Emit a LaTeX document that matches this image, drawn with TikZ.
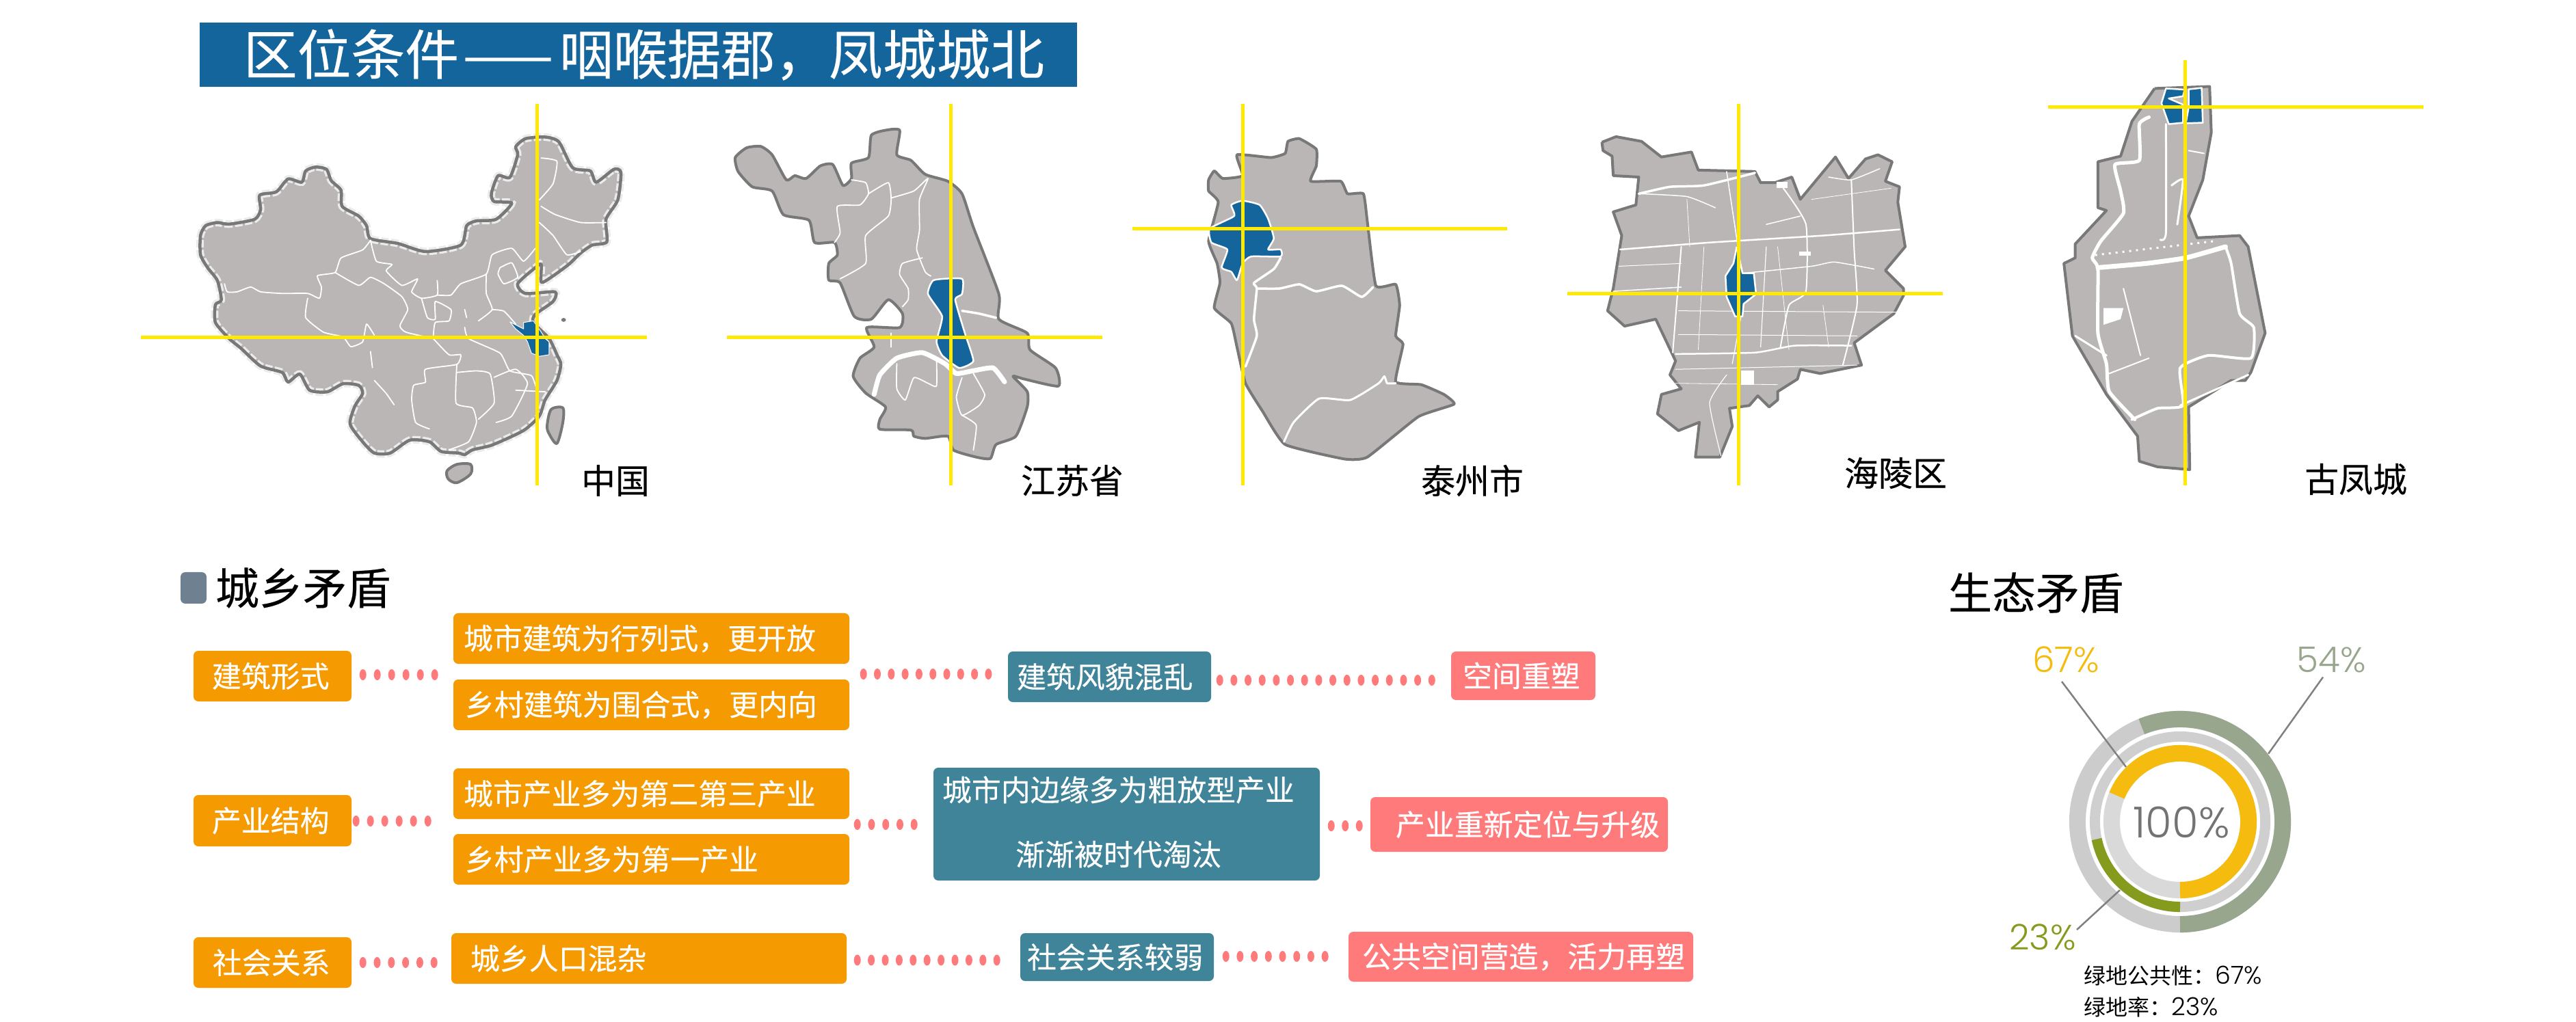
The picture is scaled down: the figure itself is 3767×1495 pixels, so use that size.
\documentclass[tikz,border=0pt]{standalone}
\usepackage{fontspec}
\usepackage{array}
\setmainfont{Noto Sans CJK SC}
\newfontfamily\numfont{Poppins Light}
\newfontfamily\heavyfont[FakeBold=0.3]{Noto Sans CJK SC}
\usetikzlibrary{decorations.markings,calc}
\newdimen\pxu \pxu=0.01cm
\definecolor{mapblue}{HTML}{15659D}
\definecolor{mapgrey}{HTML}{B9B6B5}
\definecolor{mapedge}{HTML}{787878}
\definecolor{crossy}{HTML}{FFE900}
\definecolor{boxor}{HTML}{F59A00}
\definecolor{boxte}{HTML}{40849A}
\definecolor{boxpk}{HTML}{FF7B7B}
\definecolor{marksq}{HTML}{6F8090}
\definecolor{ringa}{HTML}{98A68E}
\definecolor{ringb}{HTML}{849B1D}
\definecolor{ringc}{HTML}{F5BC0F}
\tikzset{
  zoomA/.style={shift={(1.8cm,0cm)},x=0.00574cm,y=-0.00472cm},
  zoomB/.style={shift={(10cm,-1cm)},x=0.00829cm,y=-0.00408cm},
  zoomC/.style={shift={(22.5cm,-1cm)},x=0.00829cm,y=-0.00408cm},
  landfill/.style={fill=mapgrey,postaction={draw=mapedge,line width=4\pxu,line join=round}},
  landspeck/.style={fill=mapgrey,postaction={draw=black!8,densely dotted,line width=11\pxu},postaction={draw=mapedge,line width=4.5\pxu,line join=round}},
  blueshape/.style={fill=mapblue,draw=white,line width=2.5\pxu,line join=round},
  whiteline/.style={draw=white,line width=1.8\pxu,line join=round,line cap=round},
  crossline/.style={draw=crossy,line width=5\pxu},
  boxbase/.style={rounded corners=7\pxu,inner sep=0pt,text=white,font=\heavyfont\fontsize{12.2}{14}\selectfont},
  maplabel/.style={font=\heavyfont\fontsize{14.2}{16}\selectfont,text=black,inner sep=0pt},
  headlabel/.style={font=\heavyfont\fontsize{18.2}{20}\selectfont,text=black,inner sep=0pt},
  pctlabel/.style={font=\numfont\fontsize{14.7}{16}\selectfont,inner sep=0pt},
  leader/.style={draw=gray,line width=2.5\pxu},
  dotrow/.style={decorate,decoration={markings,mark=between positions 0 and 1 step #1\pxu with {\fill[boxpk] (0,0) ellipse [x radius=0.05cm,y radius=0.08cm];}}},
}
% name, x1, y1, x2, y2, colour, left pad, text
\newcommand\boxnode[8]{\node[boxbase,fill=#6,minimum width={(#4-#2)*\pxu},minimum height={(#5-#3)*\pxu}] (#1) at ({(#2+#4)/2},{(#3+#5)/2}) {\makebox[\dimexpr #4\pxu-#2\pxu\relax][l]{\hspace*{#7\pxu}#8}};}
\newcommand\wl[2][]{\draw[whiteline,#1] plot[smooth,tension=.3] coordinates {#2};}
\begin{document}
\begin{tikzpicture}[x=0.01cm,y=-0.01cm]
\useasboundingbox (0,0) rectangle (3767,1495);

% title
\node[fill=mapblue,minimum width=1283\pxu,minimum height=94\pxu,inner sep=0pt,text=white,font=\heavyfont\fontsize{22.4}{24}\selectfont] (title) at (933.5,80) {\makebox[1283\pxu][l]{\hspace*{64\pxu}区位条件\hspace*{6\pxu}——\hspace*{9\pxu}咽喉据郡，凤城城北}};

% ---------- China ----------
\begin{scope}[zoomA]
\path[landspeck] plot[smooth cycle,tension=.4] coordinates {(197,730)(210,700)(240,690)(270,695)(335,680)(350,650)(348,605)(390,595)(420,555)(455,565)(465,530)(490,518)(518,525)(530,560)(555,590)(558,640)(600,670)(620,700)(630,740)(700,755)(770,780)(860,760)(875,700)(900,685)(950,680)(990,630)(945,625)(938,600)(955,545)(985,550)(1005,480)(1000,455)(1025,430)(1075,425)(1110,440)(1145,520)(1190,530)(1205,565)(1250,525)(1268,535)(1260,620)(1230,680)(1232,750)(1195,760)(1165,785)(1135,820)(1090,860)(1065,875)(1065,820)(1050,830)(1005,880)(1025,910)(1100,905)(1095,935)(1050,975)(1045,1000)(1085,1050)(1105,1100)(1115,1130)(1105,1180)(1075,1240)(1060,1290)(1020,1335)(940,1380)(890,1395)(870,1410)(855,1405)(810,1400)(780,1370)(730,1365)(680,1405)(640,1405)(610,1370)(578,1315)(590,1260)(610,1220)(600,1195)(560,1190)(520,1215)(475,1210)(450,1160)(420,1185)(405,1155)(350,1135)(300,1080)(270,1050)(235,1000)(235,945)(250,930)(240,870)(215,830)(197,790)};
\path[landfill] plot[smooth cycle,tension=.5] coordinates {(825,1460)(850,1440)(885,1440)(885,1470)(850,1497)(828,1485)};
\path[landfill] plot[smooth cycle,tension=.5] coordinates {(1090,1270)(1120,1265)(1120,1310)(1105,1375)(1085,1345)(1080,1320)};
\fill[mapedge] (1122,992) ellipse (6 and 6);
\wl{(630,745)(610,775)(555,800)(540,845)(495,855)(505,890)(500,925)(470,910)(405,910)(350,905)(325,890)(290,905)(265,905)(258,880)}
\wl{(540,845)(600,885)(630,860)(665,880)(710,920)(725,960)(705,1010)(720,1030)(790,1050)}
\wl{(630,745)(645,810)(685,820)(670,840)(710,885)(750,865)(735,905)(760,925)(800,915)(800,870)}
\wl{(470,925)(465,985)(510,1030)(560,1045)(580,1075)(610,1060)(620,1005)(640,1040)}
\wl{(760,925)(775,985)(795,990)(795,935)(835,960)(830,995)(795,1000)(790,1045)}
\wl{(800,915)(835,915)(860,880)(925,850)(940,790)(990,770)(1020,810)(1050,770)}
\wl{(925,850)(925,910)(940,960)(905,995)}
\wl{(940,960)(970,965)(1000,1005)}
\wl{(960,830)(990,815)(1005,860)(970,880)(955,850)(960,830)}
\wl{(1060,620)(1095,570)(1105,500)(1065,490)}
\wl{(1065,640)(1100,665)(1165,690)(1230,690)}
\wl{(1060,690)(1095,730)(1130,790)(1165,780)}
\wl{(870,1015)(880,1050)(960,1095)(985,1150)(1040,1165)(1055,1215)}
\wl{(790,1050)(830,1100)(860,1100)(850,1130)(770,1145)(770,1185)(740,1195)(735,1240)(745,1310)(780,1330)}
\wl{(850,1130)(848,1250)(890,1265)(900,1310)(880,1370)(830,1395)}
\wl{(850,1155)(900,1150)(935,1160)(945,1250)(905,1300)}
\wl{(945,1170)(1000,1145)(1030,1190)(990,1290)(950,1310)}
\wl{(1000,1210)(1075,1215)}
\wl{(630,1090)(635,1140)}
\wl{(640,1180)(670,1220)(690,1255)}
\wl{(870,960)(875,985)}
\path[blueshape,line width=1\pxu] plot coordinates {(985,998)(1020,1020)(1020,1000)(1045,995)(1065,1030)(1075,1050)(1085,1060)(1085,1100)(1060,1105)(1040,1095)(1030,1060)(1020,1040)(1000,1020)(985,998)};
\end{scope}

% ---------- Jiangsu and Taizhou ----------
\begin{scope}[zoomB]
\path[landfill] plot[smooth cycle,tension=.35] coordinates {(90,320)(110,285)(135,280)(155,310)(180,400)(195,385)(215,395)(240,350)(262,345)(280,420)(295,395)(295,340)(325,320)(330,240)(355,222)(380,222)(375,310)(400,330)(425,380)(465,405)(490,450)(510,570)(555,810)(555,900)(605,950)(610,1010)(655,1075)(660,1140)(600,1115)(580,1105)(605,1160)(605,1215)(585,1320)(550,1350)(540,1400)(515,1395)(475,1370)(465,1320)(425,1328)(405,1320)(400,1298)(345,1295)(345,1260)(355,1215)(320,1165)(298,1105)(310,1040)(335,1000)(322,930)(380,930)(385,880)(360,830)(330,900)(300,890)(275,770)(255,760)(255,700)(270,670)(265,625)(230,625)(220,545)(175,525)(155,440)(120,425)(95,370)};
\wl[line width=7\pxu]{(335,1170)(345,1100)(375,1040)(420,1020)(460,1060)(480,1095)(510,1085)(545,1075)(565,1125)}
\wl{(295,400)(320,410)(325,450)(310,490)(270,495)(275,590)(265,625)}
\wl{(325,450)(360,410)(365,470)(360,530)(320,600)(320,700)(275,755)}
\wl{(365,465)(405,440)(430,395)(415,470)(415,580)(410,650)(425,730)(435,745)}
\wl{(420,680)(385,700)(380,740)(395,790)(395,830)(385,855)}
\wl[line width=3.5\pxu]{(490,870)(520,880)(550,895)}
\wl{(375,1060)(375,1150)(390,1190)(405,1110)(430,1130)(445,1140)(445,1040)}
\wl{(510,1095)(530,1170)(520,1210)(490,1245)(480,1180)(490,1110)}
\wl{(490,1245)(515,1280)(510,1370)}
\wl{(365,950)(365,1000)}
\path[blueshape] plot[smooth cycle,tension=.3] coordinates {(440,760)(490,755)(490,810)(478,830)(495,950)(510,1050)(485,1075)(455,1030)(445,980)(455,890)(430,810)};
% Taizhou
\path[landfill] plot[smooth cycle,tension=.25] coordinates {(925,400)(935,368)(950,395)(985,385)(975,310)(1035,320)(1060,305)(1065,262)(1085,252)(1115,290)(1115,350)(1105,405)(1158,405)(1170,450)(1198,450)(1205,550)(1220,780)(1255,775)(1262,850)(1255,960)(1268,990)(1255,1125)(1300,1135)(1340,1170)(1358,1205)(1295,1250)(1205,1395)(1165,1402)(1060,1350)(1020,1230)(990,1130)(975,1000)(965,915)(935,860)(945,770)(940,700)(925,620)(942,480)(925,440)};
\wl[line width=3.5\pxu]{(1052,680)(1040,720)(1005,770)(1010,790)(1005,900)(1010,960)(990,1070)}
\wl[line width=3.5\pxu]{(1010,790)(1050,790)(1085,775)(1115,800)(1160,780)(1195,820)(1215,785)}
\wl[line width=3\pxu]{(1058,1340)(1075,1270)(1120,1185)(1175,1190)(1225,1130)(1235,1105)(1240,1130)(1255,1130)}
\path[blueshape] plot[smooth cycle,tension=.3] coordinates {(965,490)(985,475)(1015,490)(1030,540)(1040,610)(1030,650)(1052,650)(1052,675)(1000,675)(985,700)(975,760)(965,730)(948,715)(958,650)(930,625)(927,575)(970,530)};
\end{scope}

% ---------- Hailing and Gufeng ----------
\begin{scope}[zoomC]
\path[landfill] plot coordinates {(110,265)(135,245)(180,262)(215,318)(268,300)(280,365)(380,370)(390,410)(415,410)(445,390)(460,470)(522,318)(545,395)(575,325)(597,310)(622,335)(610,405)(635,425)(632,480)(645,640)(610,725)(642,790)(642,815)(625,880)(555,985)(568,1065)(495,1095)(460,1080)(455,1115)(420,1160)(420,1190)(405,1215)(385,1175)(370,1210)(335,1220)(340,1285)(318,1395)(275,1395)(282,1270)(245,1300)(208,1240)(215,1170)(250,1150)(230,1100)(240,1050)(205,900)(150,925)(120,870)(130,790)(145,600)(130,515)(170,490)(175,390)(130,385)(128,315)(112,295)(110,265)};
\wl[line width=3.5\pxu]{(175,450)(230,425)(290,420)(380,375)}
\wl[line width=2.5\pxu]{(142,650)(300,625)(500,600)(635,578)}
\wl[line width=1.5\pxu]{(330,370)(350,640)}
\wl[line width=2\pxu]{(430,430)(470,560)(470,800)(440,850)(425,1000)}
\wl[line width=2\pxu]{(550,400)(555,650)(560,850)(535,1065)}
\wl[line width=2\pxu]{(250,640)(235,1020)}
\wl[line width=2.5\pxu]{(240,1025)(380,1020)(450,995)(550,995)}
\wl[line width=1.5\pxu]{(360,735)(480,710)(520,695)(590,720)}
\wl[line width=1.5\pxu]{(130,800)(250,785)}
\wl[line width=1\pxu]{(245,870)(630,875)}
\wl[line width=1\pxu]{(240,1080)(560,1065)}
\wl[line width=1.5\pxu]{(180,450)(260,460)(310,500)}
\wl[line width=1.5\pxu]{(400,560)(460,530)}
\wl[line width=1.2\pxu]{(330,1100)(300,1200)(320,1390)}
\wl[line width=1.5\pxu]{(510,390)(550,400)(600,360)}
\wl[line width=1\pxu]{(140,710)(250,700)}
\wl[line width=1\pxu]{(245,955)(560,960)}
\wl[line width=1.2\pxu]{(360,840)(340,1060)}
\wl[line width=1.2\pxu]{(400,640)(390,1000)}
\wl[line width=.8\pxu]{(260,470)(265,640)}
\wl[line width=.8\pxu]{(290,640)(280,1010)}
\wl[line width=.8\pxu]{(420,640)(440,1010)}
\wl[line width=.8\pxu]{(500,850)(510,1000)}
\wl[line width=.8\pxu]{(480,470)(620,430)}
\wl[line width=.8\pxu]{(240,1130)(420,1135)}
\fill[white] (355,1085) rectangle (378,1135);
\fill[white] (418,408) rectangle (438,428);
\fill[white] (458,657) rectangle (478,673);
\path[blueshape] plot coordinates {(348,640)(358,735)(378,735)(382,810)(360,845)(358,890)(345,890)(330,820)(328,745)(342,700)(348,640)};
% Gufeng
\path[landfill] plot coordinates {(1085,72)(1182,65)(1185,230)(1170,400)(1145,530)(1160,608)(1235,600)(1250,640)(1280,950)(1255,1090)(1245,1120)(1220,1120)(1145,1215)(1147,1440)(1090,1430)(1058,1410)(1055,1320)(1000,1170)(940,960)(925,700)(945,680)(945,630)(1000,510)(985,500)(985,335)(1025,315)(1045,190)(1085,72)};
\wl[line width=5\pxu]{(1075,175)(1058,200)(1058,330)(1015,345)(1025,440)(1030,520)(990,620)(975,680)(985,720)(985,950)(1000,1060)(1005,1160)(1050,1260)}
\wl[line width=7\pxu]{(985,715)(1070,700)(1140,680)(1210,640)}
\wl[line width=4\pxu]{(1210,640)(1220,700)(1235,880)(1260,930)(1255,1040)(1180,1030)(1130,1075)(1135,1210)(1090,1220)(1045,1260)}
\wl[line width=3\pxu]{(1130,1210)(1250,1100)}
\wl[line width=3\pxu]{(1105,200)(1105,590)(1095,615)}
\wl[line width=3\pxu]{(1115,420)(1135,400)(1125,560)}
\wl[line width=2\pxu]{(1030,790)(1060,1030)}
\wl[line width=2\pxu]{(1005,1095)(1075,1040)}
\wl[line width=3\pxu]{(945,960)(1000,1030)}
\wl[line width=2\pxu]{(1145,295)(1172,305)}
\draw[draw=white,line width=3\pxu,dotted] (980,670) -- (1190,620);
\fill[white] (995,860) -- (1030,860) -- (1025,900) -- (995,920) -- cycle;
\path[blueshape] (1105,72) -- (1138,76) -- (1135,100) -- (1110,108) -- (1135,130) -- (1135,195) -- (1110,200) -- (1097,125) -- cycle;
\path[blueshape] (1145,75) -- (1168,70) -- (1170,195) -- (1140,197) -- (1145,140) -- cycle;
\end{scope}

% crosshairs
\coordinate (ca1) at (785.6,152); \coordinate (ca2) at (785.6,710);
\coordinate (ca3) at (206,494); \coordinate (ca4) at (946,494);
\coordinate (cb1) at (1390,152); \coordinate (cb2) at (1390,710);
\coordinate (cb3) at (1063,494); \coordinate (cb4) at (1612,494);
\coordinate (cc1) at (1817,152); \coordinate (cc2) at (1817,710);
\coordinate (cc3) at (1656,335); \coordinate (cc4) at (2204,335);
\coordinate (cd1) at (2542,152); \coordinate (cd2) at (2542,710);
\coordinate (cd3) at (2292,430); \coordinate (cd4) at (2841,430);
\coordinate (ce1) at (3195,88); \coordinate (ce2) at (3195,710);
\coordinate (ce3) at (2995,157); \coordinate (ce4) at (3544,157);
\foreach \k in {a,b,c,d,e} {
  \draw[crossline] (c\k1) -- (c\k2);
  \draw[crossline] (c\k3) -- (c\k4);
}

% map labels
\node[maplabel] (lchina) at (900,703) {中国};
\node[maplabel] (ljs) at (1568,703) {江苏省};
\node[maplabel] (ltz) at (2153,703) {泰州市};
\node[maplabel] (lhl) at (2772,692) {海陵区};
\node[maplabel] (lgf) at (3445,701) {古凤城};

% section heads
\node[fill=marksq,rounded corners=7\pxu,minimum width=38\pxu,minimum height=46\pxu,inner sep=0pt] (sq) at (283,860) {};
\node[headlabel] (hcx) at (443,860) {城乡矛盾};
\node[headlabel] (hst) at (2977,867) {生态矛盾};

% boxes
\boxnode{a1}{283}{952}{514}{1026}{boxor}{27}{建筑形式}
\boxnode{c1}{663}{897}{1242}{971}{boxor}{15}{\raisebox{-4\pxu}{城市建筑为行列式，更开放}}
\boxnode{c2}{663}{994}{1242}{1068}{boxor}{17}{乡村建筑为围合式，更内向}
\boxnode{d1}{1474}{953}{1771}{1027}{boxte}{13}{\raisebox{2\pxu}{建筑风貌混乱}}
\boxnode{e1}{2122}{953}{2333}{1024}{boxpk}{17}{空间重塑}
\boxnode{a2}{283}{1163}{514}{1238}{boxor}{27}{产业结构}
\boxnode{c4}{663}{1124}{1242}{1198}{boxor}{15}{城市产业多为第二第三产业}
\boxnode{c5}{663}{1220}{1242}{1294}{boxor}{17}{乡村产业多为第一产业}
\boxnode{d2}{1365}{1123}{1930}{1288}{boxte}{13}{\fontsize{12.2}{26.8}\selectfont\raisebox{-5\pxu}[0pt][0pt]{\begin{tabular}{@{}c@{}}城市内边缘多为粗放型产业\\渐渐被时代淘汰\end{tabular}}}
\boxnode{e2}{2004}{1166}{2439}{1246}{boxpk}{37}{产业重新定位与升级}
\boxnode{a3}{283}{1371}{514}{1445}{boxor}{28}{社会关系}
\boxnode{c3}{660}{1365}{1238}{1439}{boxor}{28}{城乡人口混杂}
\boxnode{d3}{1492}{1365}{1775}{1435}{boxte}{10}{社会关系较弱}
\boxnode{e3}{1972}{1363}{2476}{1436}{boxpk}{20}{公共空间营造，活力再塑}

\coordinate (m1l) at ($(c1.west)!.5!(c2.west)$);
\coordinate (m1r) at ($(c1.east)!.5!(c2.east)$);
\coordinate (m2l) at ($(c4.west)!.5!(c5.west)$);
\coordinate (m2r) at ($(c4.east)!.5!(c5.east)$);

% dotted connectors
\path[dotrow=21] ([shift={(16,-2)}]a1.east) -- ([shift={(-26,4.5)}]m1l);
\path[dotrow=20.3] ([shift={(20,3.5)}]m1r) -- ([shift={(-27,-4)}]d1.west);
\path[dotrow=20.67] ([shift={(12,5)}]d1.east) -- ([shift={(-27,6.5)}]e1.west);
\path[dotrow=21] ([shift={(6,.5)}]a2.east) -- ([shift={(-36,-8)}]m2l);
\path[dotrow=20.75] ([shift={(11,-3)}]m2r) -- ([shift={(-27,.5)}]d2.west);
\path[dotrow=20.5] ([shift={(16,2.5)}]d2.east) -- ([shift={(-15,2)}]e2.west);
\path[dotrow=20.8] ([shift={(16,0)}]a3.east) -- ([shift={(-24,6)}]c3.west);
\path[dotrow=20.4] ([shift={(15,2.5)}]c3.east) -- ([shift={(-33,4.5)}]d3.west);
\path[dotrow=20.7] ([shift={(17,-1)}]d3.east) -- ([shift={(-33,-.5)}]e3.west);

% donut
\begin{scope}[shift={(3188,1202)},x=1cm,y=1cm]
\draw[line width=0.24cm,draw=black!20] (0,0) circle (1.5);
\draw[line width=0.24cm,draw=ringa] (-90:1.5) arc[start angle=-90,end angle=112,radius=1.5];
\draw[line width=0.15cm,draw=black!19] (0,0) circle (1.245);
\draw[line width=0.15cm,draw=ringb] (270:1.245) arc[start angle=270,end angle=191.8,radius=1.245];
\draw[line width=0.24cm,draw=black!15] (0,0) circle (1.0);
\draw[line width=0.24cm,draw=ringc] (-90:1.0) arc[start angle=-90,end angle=157.5,radius=1.0];
\coordinate (p67) at (-0.79,0.80);
\coordinate (p54) at (1.29,0.994);
\coordinate (p23) at (-0.88,-1.00);
\end{scope}
\node[pctlabel,text=black!55,font=\numfont\fontsize{17.8}{20}\selectfont] (l100) at (3190,1203) {100\%};
\node[pctlabel,text=ringc] (l67) at (3021,965) {67\%};
\node[pctlabel,text=ringa] (l54) at (3409,965) {54\%};
\node[pctlabel,text=ringb] (l23) at (2987,1371) {23\%};
\draw[leader] ([shift={(-6,32)}]l67.center) -- (p67);
\draw[leader] ([shift={(-12,25.5)}]l54.center) -- (p54);
\draw[leader] ([shift={(50,-11)}]l23.center) -- (p23);

% legend
\node[anchor=west,inner sep=0pt,font=\fontsize{9.1}{11}\selectfont] (lg1) at (3047,1427) {绿地公共性：{\numfont\fontsize{10.3}{11}\selectfont 67\%}};
\node[anchor=west,inner sep=0pt,font=\fontsize{9.1}{11}\selectfont] (lg2) at (3047,1473) {绿地率：{\numfont\fontsize{10.3}{11}\selectfont 23\%}};
\end{tikzpicture}
\end{document}
